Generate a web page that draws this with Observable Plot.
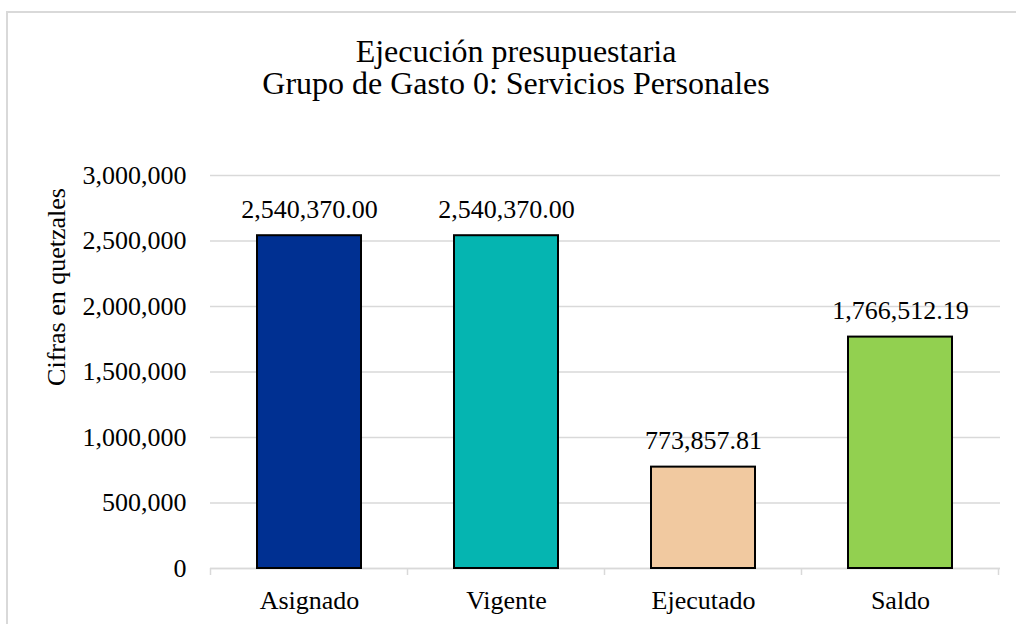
<!DOCTYPE html>
<html>
<head>
<meta charset="utf-8">
<script src="https://cdn.jsdelivr.net/npm/d3@7"></script>
<script src="https://cdn.jsdelivr.net/npm/@observablehq/plot@0.6"></script>
<style>
  html, body { margin: 0; padding: 0; background: #fff; }
  body { width: 1016px; height: 624px; overflow: hidden; position: relative; font-family: "Liberation Serif", "Times New Roman", serif; }
  #frame { position: absolute; left: 6px; top: 11px; width: 1030px; height: 640px; border: 2px solid #d9d9d9; box-sizing: border-box; }
  #title { position: absolute; left: 8px; width: 1016px; top: 35px; text-align: center; font-size: 32px; line-height: 32px; color: #000; }
  #ylabel { position: absolute; left: 57px; top: 287px; transform: translate(-50%, -50%) rotate(-90deg); font-size: 26px; white-space: nowrap; color: #000; }
  #chart { position: absolute; left: 0; top: 0; }
</style>
</head>
<body>
<div id="frame"></div>
<div id="title">Ejecución presupuestaria<br>Grupo de Gasto 0: Servicios Personales</div>
<div id="ylabel">Cifras en quetzales</div>
<div id="chart"></div>
<script>
const categories = ["Asignado", "Vigente", "Ejecutado", "Saldo"];
const values = [2540370.00, 2540370.00, 773857.81, 1766512.19];
const colors = ["#003092", "#05B5B1", "#F1C9A0", "#92D050"];
const yTicks = [0, 500000, 1000000, 1500000, 2000000, 2500000, 3000000];

const data = categories.map((c, i) => ({category: c, value: values[i], color: colors[i]}));
const fmtTick = d3.format(",");
const fmtVal = d3.format(",.2f");
const gap = 0.47;

function boundaryTicks(index, scales, values, dimensions) {
  const x = scales.x;
  const step = x.step();
  const bw = x.bandwidth();
  const y0 = dimensions.height - dimensions.marginBottom;
  const g = d3.create("svg:g");
  const xs = categories.map(c => x(c) - (step - bw) / 2);
  xs.push(x(categories[categories.length - 1]) + bw + (step - bw) / 2);
  for (const px of xs) {
    g.append("line").attr("x1", px).attr("x2", px).attr("y1", y0).attr("y2", y0 + 7)
      .attr("stroke", "#d9d9d9").attr("stroke-width", 1.5);
  }
  return g.node();
}

const plot = Plot.plot({
  width: 1016,
  height: 624,
  marginLeft: 210,
  marginRight: 16,
  marginTop: 175,
  marginBottom: 56,
  style: { fontFamily: '"Liberation Serif", "Times New Roman", serif', fontSize: "26px", color: "#000", background: "transparent" },
  x: { domain: categories, paddingInner: gap, paddingOuter: gap / 2, label: null },
  y: { domain: [0, 3000000], label: null },
  marks: [
    Plot.gridY(yTicks, { stroke: "#d9d9d9", strokeOpacity: 1, strokeWidth: 1.5 }),
    Plot.ruleY([0], { stroke: "#d9d9d9", strokeWidth: 1.5 }),
    boundaryTicks,
    Plot.barY(data, { x: "category", y: "value", fill: "color", stroke: "#000", strokeWidth: 2 }),
    Plot.text(data, { x: "category", y: "value", text: d => fmtVal(d.value), lineAnchor: "bottom", dy: -18, fontSize: 26, fill: "#000" }),
    Plot.axisY(yTicks, { tickSize: 0, tickPadding: 24, tickFormat: fmtTick, fontSize: 26, label: null }),
    Plot.axisX({ tickSize: 0, tickPadding: 22, fontSize: 26, label: null })
  ]
});
document.getElementById("chart").appendChild(plot);
</script>
</body>
</html>
